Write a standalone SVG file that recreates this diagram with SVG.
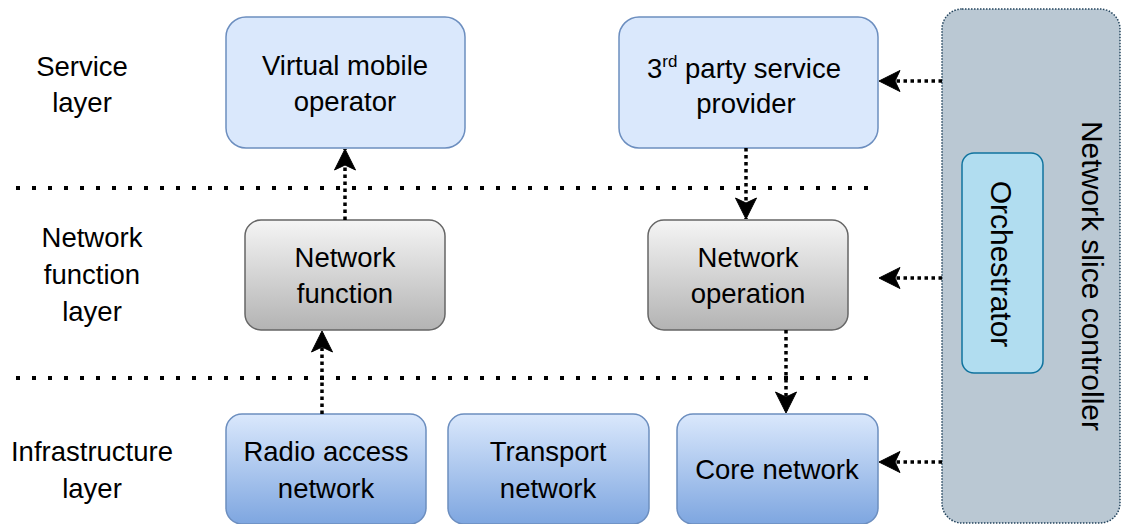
<svg xmlns="http://www.w3.org/2000/svg" width="1121" height="524" viewBox="0 0 1121 524">
<defs>
<linearGradient id="gGrey" x1="0" y1="0" x2="0" y2="1"><stop offset="0" stop-color="#f5f5f5"/><stop offset="1" stop-color="#b3b3b3"/></linearGradient>
<linearGradient id="gBlue" x1="0" y1="0" x2="0" y2="1"><stop offset="0" stop-color="#dae8fc"/><stop offset="1" stop-color="#7ea6e0"/></linearGradient>
<marker id="arr" markerUnits="userSpaceOnUse" markerWidth="24" markerHeight="24" viewBox="0 0 24 24" refX="22" refY="12" orient="auto">
<path d="M22 12 L1 1.5 L6 12 L1 22.5 Z" fill="#000" stroke="#000" stroke-width="1"/>
</marker>
<style>
text{font-family:"Liberation Sans",Arial,Helvetica,sans-serif;font-size:27.5px;fill:#000;text-anchor:middle}
.vt{font-size:30px}
.svc{fill:#dae8fc;stroke:#6c8ebf;stroke-width:1.5}
.nf{fill:url(#gGrey);stroke:#666;stroke-width:1.5}
.inf{fill:url(#gBlue);stroke:#6c8ebf;stroke-width:1.5}
.layer{stroke:#000;stroke-width:4;stroke-dasharray:4 12;fill:none}
.con{stroke:#000;stroke-width:3.5;stroke-dasharray:3.5 3.5;fill:none;marker-end:url(#arr)}
</style>
</defs>
<g id="layers">
<line class="layer" x1="16" y1="188" x2="870" y2="188"/>
<line class="layer" x1="16" y1="378" x2="870" y2="378"/>
<text x="82" y="76">Service</text>
<text x="82" y="112">layer</text>
<text x="92" y="247">Network</text>
<text x="92" y="284">function</text>
<text x="92" y="321">layer</text>
<text x="92" y="461">Infrastructure</text>
<text x="92" y="498">layer</text>
</g>
<g id="nsc">
<rect x="942" y="9" width="178" height="514" rx="20" fill="#bac8d3" stroke="#23445d" stroke-width="1.5" stroke-dasharray="1.5 1.5"/>
<text class="vt" transform="translate(1093,276) rotate(90)" x="0" y="11">Network slice controller</text>
</g>
<g id="orchestrator">
<rect x="962" y="153" width="81" height="220" rx="12" fill="#b1ddf0" stroke="#10739e" stroke-width="1.5"/>
<text class="vt" transform="translate(1002,264) rotate(90)" x="0" y="11">Orchestrator</text>
</g>
<g id="vmo">
<rect class="svc" x="226" y="17" width="239" height="131" rx="20"/>
<text x="345" y="75">Virtual mobile</text>
<text x="345" y="111">operator</text>
</g>
<g id="tpsp">
<rect class="svc" x="619" y="17" width="259" height="131" rx="20"/>
<text x="744" y="78">3<tspan font-size="17" dy="-11">rd</tspan><tspan dy="11"> party service</tspan></text>
<text x="746" y="113">provider</text>
</g>
<g id="nfunc">
<rect class="nf" x="245" y="220" width="200" height="110" rx="16"/>
<text x="345" y="267">Network</text>
<text x="345" y="303">function</text>
</g>
<g id="nop">
<rect class="nf" x="648" y="220" width="200" height="110" rx="16"/>
<text x="748" y="267">Network</text>
<text x="748" y="303">operation</text>
</g>
<g id="ran">
<rect class="inf" x="226" y="414" width="200" height="110" rx="16"/>
<text x="326" y="461">Radio access</text>
<text x="326" y="498">network</text>
</g>
<g id="tn">
<rect class="inf" x="448" y="414" width="201" height="110" rx="16"/>
<text x="548" y="461">Transport</text>
<text x="548" y="498">network</text>
</g>
<g id="cn">
<rect class="inf" x="677" y="414" width="201" height="110" rx="16"/>
<text x="777" y="479">Core network</text>
</g>
<g id="connectors">
<line class="con" x1="345" y1="220" x2="345" y2="149"/>
<line class="con" x1="322" y1="414" x2="322" y2="331"/>
<line class="con" x1="746" y1="148" x2="746" y2="219"/>
<line class="con" x1="786" y1="330" x2="786" y2="413"/>
<line class="con" x1="942" y1="81" x2="879" y2="81"/>
<line class="con" x1="942" y1="278" x2="879" y2="278"/>
<line class="con" x1="942" y1="462" x2="879" y2="462"/>
</g>
</svg>
